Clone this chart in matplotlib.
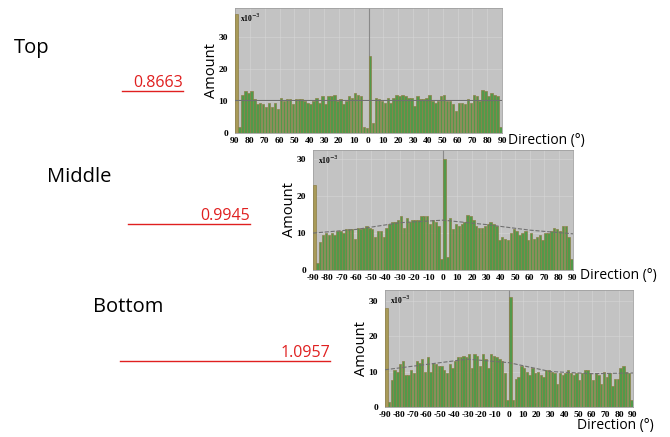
import numpy as np
import matplotlib.pyplot as plt

# Ângulos (centros dos bins de 2 graus)
bins = np.arange(-89, 90, 2)

# Valores (x10^-3)
top_vals = [37, 2, 12, 13, 12.5, 13, 10.5, 9, 9.5, 9, 8, 9.5, 8, 9.5, 7.5,
            11, 10, 10.5, 10.5, 9, 10.5, 10.5, 10.5, 10, 9.5, 9, 10, 11, 9.5, 11.5,
            9, 11.5, 11.5, 12, 10, 10.5, 9, 10, 11.5, 11, 12.5, 12, 11.5, 2, 1.5,
            24, 3, 11, 10.5, 10, 9.5, 11, 9.5, 11, 12, 11.5, 12, 11.5, 11, 11,
            8.5, 11.5, 10.5, 10.5, 11, 12, 10, 9.5, 10, 11.5, 12, 10, 10, 9, 7,
            9.5, 9.5, 9, 10.5, 9.5, 12, 11.5, 10, 13.5, 13, 11.5, 12.5, 12, 11.5, 2]
mid_vals = [23, 2, 7.5, 9.5, 10, 9.5, 10, 9.5, 10.5, 10.5, 10, 11, 11, 11, 8.5,
            11.5, 11, 11.5, 12, 11.5, 11, 9, 10.5, 10.5, 9, 11.5, 12.5, 13, 13, 13.5,
            14.5, 11.5, 14, 13, 13.5, 13.5, 13.5, 14.5, 14.5, 14.5, 12.5, 13.5, 13, 12, 3,
            30, 3.5, 14, 11, 12.5, 12, 12.5, 13, 15, 14.5, 13.5, 12, 11.5, 11.5, 12,
            12.5, 13, 12.5, 12, 8, 9, 8.5, 8, 10, 11, 10.5, 9.5, 10, 10.5, 8,
            10, 8.5, 9, 9.5, 8, 10, 10, 10.5, 11.5, 11, 10.5, 12, 12, 9, 3]
bot_vals = [28, 1.5, 7.5, 10.5, 10, 12, 13, 9, 9, 10.5, 9.5, 13, 12.5, 13.5, 10,
            14, 10, 12.5, 12, 11.5, 11.5, 10.5, 9.5, 12, 11, 13, 14, 14, 14.5, 14,
            15, 11, 15, 14.5, 11.5, 15, 13.5, 11, 15, 14.5, 14, 13.5, 13, 9.5, 2,
            31, 2, 8, 8.5, 11.5, 11, 10, 9, 11, 9.5, 10, 9, 8.5, 10.5, 10.5,
            10, 9.5, 6.5, 9.5, 9, 9.5, 10.5, 9.5, 9, 9.5, 7.5, 9.5, 10.5, 10.5, 9.5,
            7.5, 9.5, 9, 6.5, 10, 8.5, 9.5, 6, 8, 8, 11, 11.5, 10, 9.5, 2]

# Linha média (top) e tendências tracejadas (middle, bottom)
top_mean = 10.2
trend_x = [-90, -60, -30, 0, 30, 60, 90]
mid_trend = [10, 11, 12.8, 13.5, 12.3, 10.8, 9.8]
bot_trend = [10.5, 12, 13.5, 12.5, 10, 9.4, 9.6]

# Rótulos
ticks = [-90, -80, -70, -60, -50, -40, -30, -20, -10, 0, 10, 20, 30, 40, 50, 60, 70, 80, 90]
top_labels = [str(abs(t)) for t in ticks]
sign_labels = [str(t) for t in ticks]
names = ['Top', 'Middle', 'Bottom']
ratios = ['0.8663', '0.9945', '1.0957']

fig = plt.figure(figsize=(6.7, 4.37), dpi=100)
W, H = 670, 437

def px_axes(x0, y0, x1, y1):
    return fig.add_axes([x0 / W, 1 - y1 / H, (x1 - x0) / W, (y1 - y0) / H])

def draw_panel(ax, vals, ymax, labels, trend=None, mean=None):
    ax.set_facecolor('#c3c3c3')
    colors = ['#52994a'] * len(vals)
    colors[0] = '#a89a58'
    ax.bar(bins, vals, width=1.7, color=colors, edgecolor='#8e8048', linewidth=0.5, zorder=3)
    if mean is not None:
        ax.axhline(mean, color='#707070', lw=0.8, zorder=4)
    if trend is not None:
        ax.plot(trend_x, trend, color='#707070', lw=0.8, ls='--', zorder=4)
    ax.axvline(0, color='#8a8a8a', lw=0.8, zorder=2)
    ax.set_xlim(-90, 90)
    ax.set_ylim(0, ymax)
    ax.set_xticks(ticks)
    ax.set_xticklabels(labels)
    ax.set_yticks([0, 10, 20, 30])
    for lab in ax.get_xticklabels() + ax.get_yticklabels():
        lab.set_family('Liberation Serif')
        lab.set_fontweight('bold')
        lab.set_fontsize(6.8)
    ax.tick_params(axis='x', length=0, pad=3)
    ax.tick_params(axis='y', length=0, pad=5)
    ax.grid(True, color='#d6d6d6', lw=0.4, zorder=1)
    for s in ax.spines.values():
        s.set_color('#a0a0a0')
        s.set_linewidth(0.6)
    ax.text(0.02, 0.97, r'x10$^{-3}$', transform=ax.transAxes, fontsize=5.5,
            fontweight='bold', family='Liberation Serif', va='top', zorder=5)
    ax.set_ylabel('Amount', family='Open Sans', fontsize=10.5, labelpad=0)

ax1 = px_axes(235, 8, 502, 133)
draw_panel(ax1, top_vals, 39, top_labels, mean=top_mean)
ax2 = px_axes(313, 150, 573, 270)
draw_panel(ax2, mid_vals, 32.5, sign_labels, trend=mid_trend)
ax3 = px_axes(385, 290, 633, 407)
draw_panel(ax3, bot_vals, 33, sign_labels, trend=bot_trend)

# Rótulos "Direction (°)"
fig.text(508 / W, 1 - 140 / H, 'Direction (°)', family='Open Sans', fontsize=10, va='center')
fig.text(580 / W, 1 - 275 / H, 'Direction (°)', family='Open Sans', fontsize=10, va='center')
fig.text(577 / W, 1 - 426 / H, 'Direction (°)', family='Open Sans', fontsize=10, va='center')

# Textos à esquerda
name_pos = [(14, 48), (47, 177), (93, 307)]
ratio_pos = [(183, 83, 122), (250, 216, 128), (330, 353, 120)]
for n, (nx, ny) in zip(names, name_pos):
    fig.text(nx / W, 1 - ny / H, n, family='Open Sans', fontsize=14.5, va='center')
for r, (rx, ry, lx) in zip(ratios, ratio_pos):
    fig.text(rx / W, 1 - ry / H, r, family='Open Sans', fontsize=11.5, color='#e02020',
             ha='right', va='center')
    fig.add_artist(plt.Line2D([lx / W, rx / W], [1 - (ry + 8) / H] * 2,
                              color='#e02020', lw=1))

fig.savefig('out.png', dpi=100)
